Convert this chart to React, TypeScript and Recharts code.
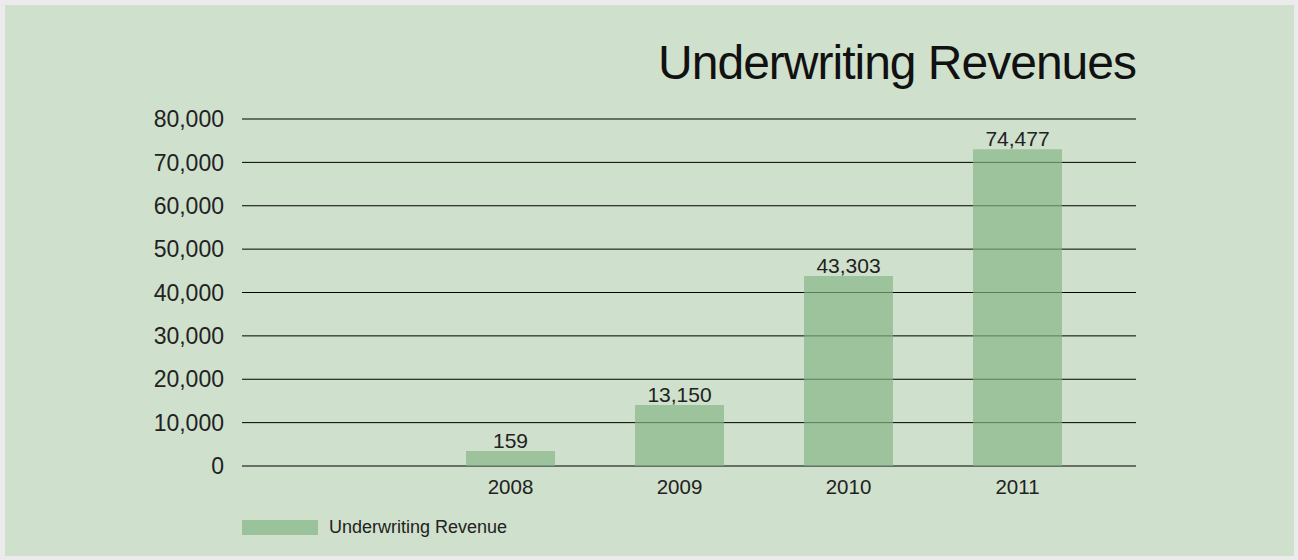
import React from "react";
import { BarChart, Bar, XAxis, YAxis, CartesianGrid, LabelList } from "recharts";

const categories = ["2008", "2009", "2010", "2011"];
const barValues = [3450, 14050, 43780, 73050];
const valueLabels = ["159", "13,150", "43,303", "74,477"];
const yTicks = [0, 10000, 20000, 30000, 40000, 50000, 60000, 70000, 80000];
const seriesName = "Underwriting Revenue";
const title = "Underwriting Revenues";

const data = categories.map((c, i) => ({ year: c, value: barValues[i], label: valueLabels[i] }));

const FONT = "'Liberation Sans', Arial, Helvetica, sans-serif";

export default function App() {
  return (
    <div style={{ position: "absolute", left: 0, top: 0, width: 1298, height: 560, background: "#ebebeb", overflow: "hidden" }}>
      <div style={{ position: "absolute", left: 5, top: 5, width: 1289, height: 551, background: "#cfe0cc" }} />
      <div
        style={{
          position: "absolute",
          right: 1298 - 1136,
          top: 33,
          fontFamily: FONT,
          fontSize: 48,
          letterSpacing: -1,
          color: "#111",
          whiteSpace: "nowrap",
          lineHeight: "60px",
        }}
      >
        {title}
      </div>
      <div style={{ position: "absolute", left: 0, top: 0 }}>
        <BarChart
          width={1298}
          height={560}
          data={data}
          margin={{ top: 119, right: 162, bottom: 54, left: 142 }}
        >
          <CartesianGrid vertical={false} stroke="#000" strokeWidth={1} />
          <XAxis
            dataKey="year"
            axisLine={false}
            tickLine={false}
            tickSize={0}
            tickMargin={13}
            height={40}
            padding={{ left: 184, right: 34 }}
            tick={{ fill: "#222", fontSize: 20.5, fontFamily: FONT }}
          />
          <YAxis
            domain={[0, 80000]}
            ticks={yTicks}
            width={100}
            axisLine={false}
            tickLine={false}
            tickSize={0}
            tickMargin={18}
            tickFormatter={(v: number) => v.toLocaleString("en-US")}
            tick={{ fill: "#222", fontSize: 23, fontFamily: FONT }}
          />
          <Bar dataKey="value" name={seriesName} fill="#83b584" fillOpacity={0.68} barSize={89} isAnimationActive={false}>
            <LabelList dataKey="label" position="top" offset={3} fill="#222" fontSize={21} fontFamily={FONT} />
          </Bar>
        </BarChart>
      </div>
      <div style={{ position: "absolute", left: 242, top: 520, width: 76, height: 15, background: "#9bc39b" }} />
      <div
        style={{
          position: "absolute",
          left: 329,
          top: 516,
          fontFamily: FONT,
          fontSize: 18,
          lineHeight: "22px",
          color: "#222",
          whiteSpace: "nowrap",
        }}
      >
        {seriesName}
      </div>
    </div>
  );
}
